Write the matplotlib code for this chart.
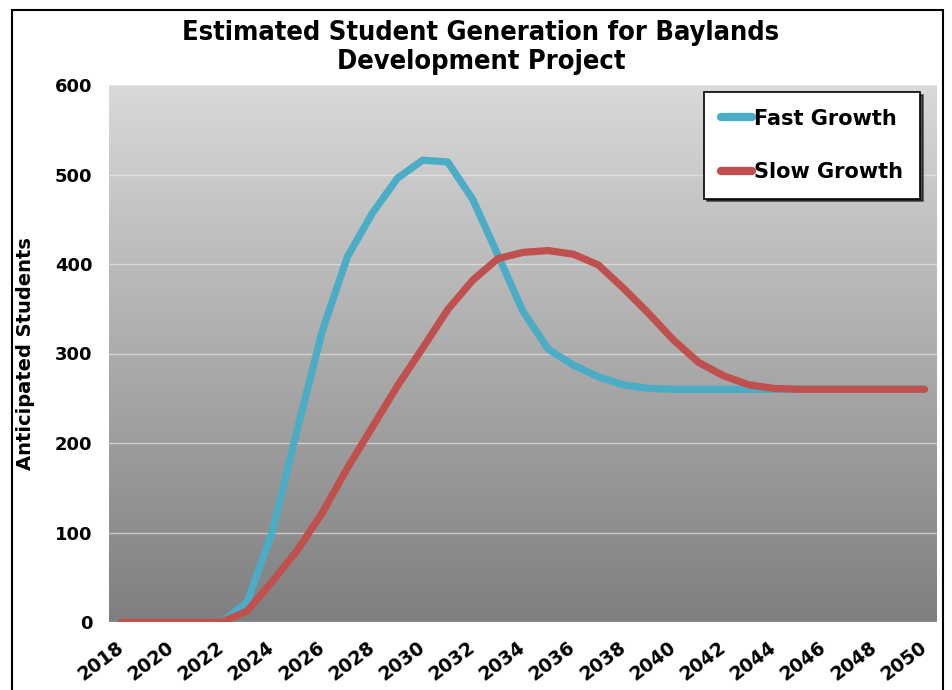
import numpy as np
import matplotlib
matplotlib.use("Agg")
import matplotlib.pyplot as plt
from matplotlib.patches import Rectangle

years = list(range(2018, 2051))
fast_growth = [0, 0, 0, 0, 0, 22, 100, 215, 325, 408, 457, 496, 516, 514, 472, 410,
               347, 305, 287, 274, 265, 261, 260, 260, 260, 260, 260, 260, 260, 260,
               260, 260, 260]
slow_growth = [0, 0, 0, 0, 0, 12, 45, 80, 122, 172, 218, 264, 306, 349, 382, 406,
               413, 415, 411, 399, 373, 345, 315, 290, 275, 265, 261, 260, 260, 260,
               260, 260, 260]
y_ticks = [0, 100, 200, 300, 400, 500, 600]
x_tick_years = list(range(2018, 2051, 2))

W, H = 953, 690
fig = plt.figure(figsize=(W / 100, H / 100), dpi=100)
fig.patch.set_facecolor("white")

L, R, T, B = 109, 937, 85, 622
ax = fig.add_axes([L / W, (H - B) / H, (R - L) / W, (B - T) / H])

# gradient background
grad = np.linspace(0, 1, 256).reshape(-1, 1)
top = np.array([217, 217, 217]) / 255
bot = np.array([127, 127, 127]) / 255
cols = top[None, :] * (1 - grad) + bot[None, :] * grad
img = cols.reshape(256, 1, 3)
ax.imshow(img, extent=[0, 1, 0, 1], transform=ax.transAxes, aspect="auto", zorder=0)

ax.set_xlim(2017.5, 2050.5)
ax.set_ylim(0, 600)

for yv in y_ticks:
    ax.axhline(yv, color="#eeeeee", lw=1.0, alpha=0.6, zorder=1)

ax.plot(years, fast_growth, color="#4bacc6", lw=5.2, solid_capstyle="round",
        solid_joinstyle="round", zorder=3, label="Fast Growth")
ax.plot(years, slow_growth, color="#c0504d", lw=5.2, solid_capstyle="round",
        solid_joinstyle="round", zorder=4, label="Slow Growth")

for s in ax.spines.values():
    s.set_visible(False)

ax.set_yticks(y_ticks)
ax.set_yticklabels([str(v) for v in y_ticks], fontsize=13, fontweight="bold")
ax.set_xticks(x_tick_years)
ax.set_xticklabels([str(v) for v in x_tick_years], fontsize=13.5, fontweight="bold",
                   rotation=37, ha="right", va="center", rotation_mode="anchor")
ax.tick_params(axis="y", length=0, pad=12)
ax.tick_params(axis="x", length=0, pad=17)

ax.set_ylabel("Anticipated Students", fontsize=14, fontweight="bold")
ax.yaxis.set_label_coords((35 - L) / (R - L), 0.5)

fig.text(481 / W, 1 - 33 / H, "Estimated Student Generation for Baylands",
         ha="center", va="center", fontsize=19.5, fontweight="bold", stretch="condensed")
fig.text(481 / W, 1 - 62 / H, "Development Project",
         ha="center", va="center", fontsize=19.5, fontweight="bold", stretch="condensed")

leg = ax.legend(loc="upper right", bbox_to_anchor=((920 - L) / (R - L), (B - 92) / (B - T)),
                borderaxespad=0, frameon=True, fancybox=False,
                shadow={"color": "black", "alpha": 0.6},
                prop={"size": 15, "weight": "bold"}, handlelength=1.5,
                handletextpad=0.1, labelspacing=1.6, borderpad=0.8)
leg.get_frame().set_edgecolor("black")
leg.get_frame().set_linewidth(1.2)
leg.get_frame().set_facecolor("white")
for h in leg.legend_handles:
    h.set_linewidth(6)
    h.set_solid_capstyle("round")

fig.patches.append(Rectangle((12 / W, -0.05), (943 - 12) / W, 1 - 10 / H + 0.05,
                             transform=fig.transFigure, fill=False, edgecolor="black",
                             lw=1.5, clip_on=False))

fig.savefig("out.png", dpi=100)
